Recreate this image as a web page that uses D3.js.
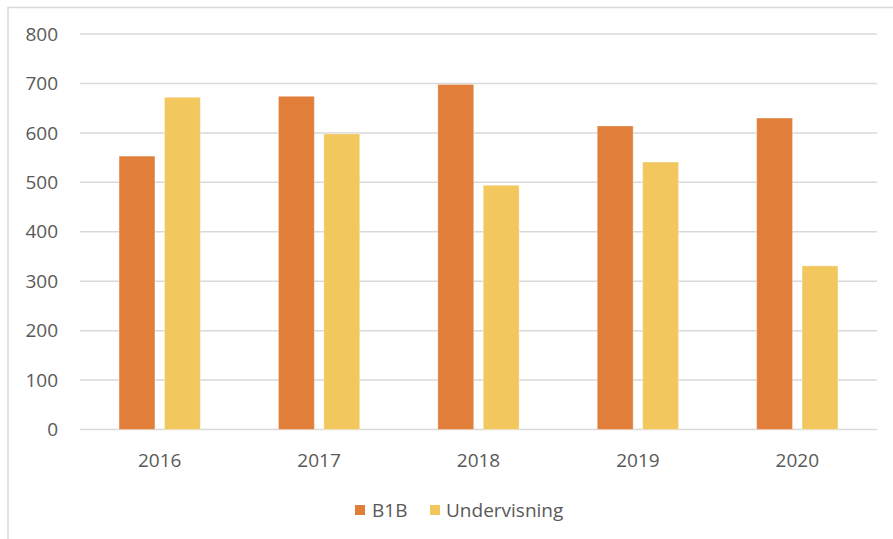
<!DOCTYPE html>
<meta charset="utf-8">
<script src="https://d3js.org/d3.v7.min.js"></script>
<style>
  body { margin: 0; background: #fff; }
  text { font-family: "Open Sans", sans-serif; fill: #595959; }
</style>
<div id="chart"></div>
<script>
// Data
const years = ["2016", "2017", "2018", "2019", "2020"];
const series = ["B1B", "Undervisning"];
const b1b = [553, 674, 698, 614, 630];
const undervisning = [672, 598, 494, 541, 331];
const yTicks = [0, 100, 200, 300, 400, 500, 600, 700, 800];
const colors = ["#E07E3A", "#F1C75E"];

const width = 893, height = 539;
const margin = { top: 34, right: 16, bottom: 109, left: 80 };

const svg = d3.select("#chart").append("svg")
  .attr("width", width)
  .attr("height", height);

// chart frame (cut off on the right and bottom)
svg.append("path")
  .attr("d", `M8,${height} L8,7.5 L${width},7.5`)
  .attr("fill", "none")
  .attr("stroke", "#D9D9D9")
  .attr("stroke-width", 1.5);

const x0 = d3.scaleBand()
  .domain(years)
  .range([margin.left, width - margin.right]);

const x1 = d3.scaleBand()
  .domain(series)
  .range([0, x0.bandwidth()])
  .paddingInner(0.21)
  .paddingOuter(0.86);

const y = d3.scaleLinear()
  .domain([0, 800])
  .range([height - margin.bottom - 0.5, margin.top]);

// gridlines
svg.append("g")
  .selectAll("line")
  .data(yTicks)
  .join("line")
    .attr("x1", margin.left)
    .attr("x2", width - margin.right)
    .attr("y1", d => y(d))
    .attr("y2", d => y(d))
    .attr("stroke", "#D9D9D9")
    .attr("stroke-width", 1.5);

// y labels
svg.append("g")
  .selectAll("text")
  .data(yTicks)
  .join("text")
    .attr("x", 58)
    .attr("y", d => y(d))
    .attr("dy", "0.35em")
    .attr("text-anchor", "end")
    .style("font-size", "19px")
    .text(d => d);

// bars
const rows = years.map((yr, i) => ({ year: yr, values: [b1b[i], undervisning[i]] }));

svg.append("g")
  .selectAll("g")
  .data(rows)
  .join("g")
    .attr("transform", d => `translate(${x0(d.year)},0)`)
  .selectAll("rect")
  .data(d => d.values.map((v, j) => ({ key: series[j], value: v, j })))
  .join("rect")
    .attr("x", d => x1(d.key))
    .attr("width", x1.bandwidth())
    .attr("y", d => y(d.value))
    .attr("height", d => y(0) - y(d.value))
    .attr("fill", d => colors[d.j])
    .attr("stroke", "#fff")
    .attr("stroke-opacity", 0.35)
    .attr("stroke-width", 1);

// x labels
svg.append("g")
  .selectAll("text")
  .data(years)
  .join("text")
    .attr("x", d => x0(d) + x0.bandwidth() / 2)
    .attr("y", 460)
    .attr("dy", "0.35em")
    .attr("text-anchor", "middle")
    .style("font-size", "19px")
    .text(d => d);

// legend
const legendItems = [
  { name: series[0], sx: 355, tx: 372 },
  { name: series[1], sx: 430, tx: 446 }
];
const legend = svg.append("g");
legend.selectAll("rect")
  .data(legendItems)
  .join("rect")
    .attr("x", d => d.sx)
    .attr("y", 505)
    .attr("width", 10)
    .attr("height", 10)
    .attr("fill", (d, i) => colors[i]);
legend.selectAll("text")
  .data(legendItems)
  .join("text")
    .attr("x", d => d.tx)
    .attr("y", 510)
    .attr("dy", "0.35em")
    .style("font-size", "19px")
    .text(d => d.name);
</script>
